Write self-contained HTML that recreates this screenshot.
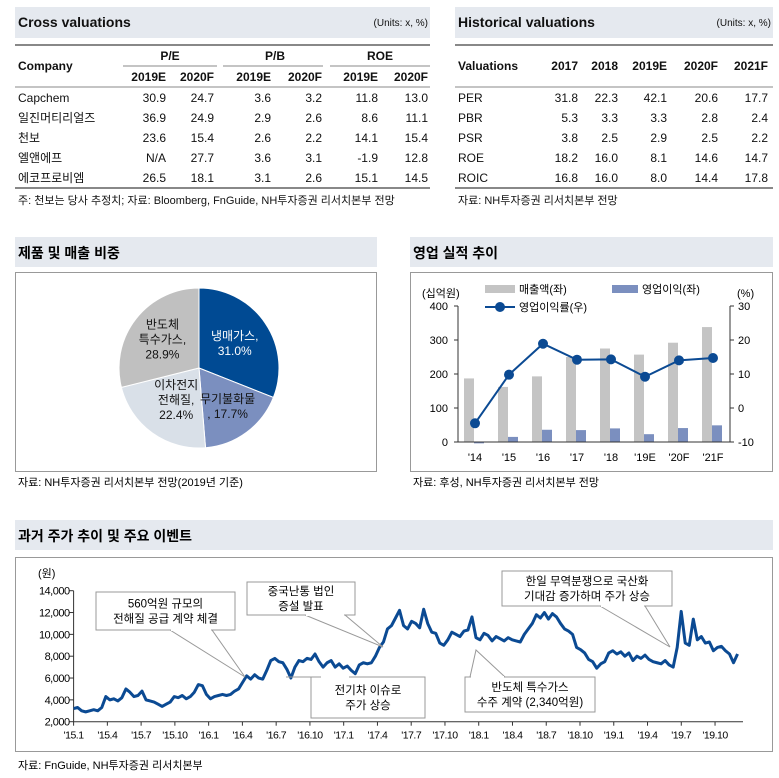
<!DOCTYPE html>
<html><head><meta charset="utf-8"><style>
body{margin:0;background:#fff;}
svg{display:block;font-family:"Liberation Sans","Noto Sans CJK KR",sans-serif;}
</style></head><body>
<svg id="pg" width="779" height="778" viewBox="0 0 779 778">
<g font-size="12" fill="#111">
<rect x="15" y="7" width="415" height="31" fill="#e5e9ef"/>
<text x="18" y="27" font-size="14" font-weight="bold">Cross valuations</text>
<text x="428" y="26" font-size="10" text-anchor="end">(Units: x, %)</text>
<line x1="15" y1="45" x2="430" y2="45" stroke="#888" stroke-width="2"/>
<text x="18" y="70" font-weight="bold">Company</text>
<g font-weight="bold" text-anchor="middle"><text x="170" y="60">P/E</text><text x="275" y="60">P/B</text><text x="380" y="60">ROE</text></g>
<g stroke="#888" stroke-width="1"><line x1="123" y1="66" x2="217" y2="66"/><line x1="223" y1="66" x2="323" y2="66"/><line x1="330" y1="66" x2="430" y2="66"/></g>
<g font-weight="bold" text-anchor="end"><text x="166" y="81">2019E</text><text x="214" y="81">2020F</text><text x="271" y="81">2019E</text><text x="322" y="81">2020F</text><text x="378" y="81">2019E</text><text x="428" y="81">2020F</text></g>
<line x1="15" y1="87" x2="430" y2="87" stroke="#888"/>
<g><text x="18" y="102">Capchem</text><text x="18" y="122">일진머티리얼즈</text><text x="18" y="142">천보</text><text x="18" y="162">엘앤에프</text><text x="18" y="182">에코프로비엠</text></g>
<g text-anchor="end">
<text x="166" y="102">30.9</text><text x="214" y="102">24.7</text><text x="271" y="102">3.6</text><text x="322" y="102">3.2</text><text x="378" y="102">11.8</text><text x="428" y="102">13.0</text>
<text x="166" y="122">36.9</text><text x="214" y="122">24.9</text><text x="271" y="122">2.9</text><text x="322" y="122">2.6</text><text x="378" y="122">8.6</text><text x="428" y="122">11.1</text>
<text x="166" y="142">23.6</text><text x="214" y="142">15.4</text><text x="271" y="142">2.6</text><text x="322" y="142">2.2</text><text x="378" y="142">14.1</text><text x="428" y="142">15.4</text>
<text x="166" y="162">N/A</text><text x="214" y="162">27.7</text><text x="271" y="162">3.6</text><text x="322" y="162">3.1</text><text x="378" y="162">-1.9</text><text x="428" y="162">12.8</text>
<text x="166" y="182">26.5</text><text x="214" y="182">18.1</text><text x="271" y="182">3.1</text><text x="322" y="182">2.6</text><text x="378" y="182">15.1</text><text x="428" y="182">14.5</text>
</g>
<line x1="15" y1="188" x2="430" y2="188" stroke="#888" stroke-width="2"/>
<text x="18" y="204" font-size="11">주: 천보는 당사 추정치;   자료: Bloomberg, FnGuide, NH투자증권 리서치본부 전망</text>
</g>
<g font-size="12" fill="#111">
<rect x="455" y="7" width="318" height="31" fill="#e5e9ef"/>
<text x="458" y="27" font-size="14" font-weight="bold">Historical valuations</text>
<text x="771" y="26" font-size="10" text-anchor="end">(Units: x, %)</text>
<line x1="455" y1="45" x2="773" y2="45" stroke="#888" stroke-width="2"/>
<text x="458" y="70" font-weight="bold">Valuations</text>
<g font-weight="bold" text-anchor="end"><text x="578" y="70">2017</text><text x="618" y="70">2018</text><text x="667" y="70">2019E</text><text x="718" y="70">2020F</text><text x="768" y="70">2021F</text></g>
<line x1="455" y1="87" x2="773" y2="87" stroke="#888"/>
<g><text x="458" y="102">PER</text><text x="458" y="122">PBR</text><text x="458" y="142">PSR</text><text x="458" y="162">ROE</text><text x="458" y="182">ROIC</text></g>
<g text-anchor="end">
<text x="578" y="102">31.8</text><text x="618" y="102">22.3</text><text x="667" y="102">42.1</text><text x="718" y="102">20.6</text><text x="768" y="102">17.7</text>
<text x="578" y="122">5.3</text><text x="618" y="122">3.3</text><text x="667" y="122">3.3</text><text x="718" y="122">2.8</text><text x="768" y="122">2.4</text>
<text x="578" y="142">3.8</text><text x="618" y="142">2.5</text><text x="667" y="142">2.9</text><text x="718" y="142">2.5</text><text x="768" y="142">2.2</text>
<text x="578" y="162">18.2</text><text x="618" y="162">16.0</text><text x="667" y="162">8.1</text><text x="718" y="162">14.6</text><text x="768" y="162">14.7</text>
<text x="578" y="182">16.8</text><text x="618" y="182">16.0</text><text x="667" y="182">8.0</text><text x="718" y="182">14.4</text><text x="768" y="182">17.8</text>
</g>
<line x1="455" y1="188" x2="773" y2="188" stroke="#888" stroke-width="2"/>
<text x="458" y="204" font-size="11">자료: NH투자증권 리서치본부 전망</text>
</g>
<g>
<rect x="15" y="237" width="362" height="30" fill="#e5e9ef"/>
<text x="18" y="258" font-size="14" font-weight="bold">제품 및 매출 비중</text>
<rect x="15.5" y="272.5" width="361" height="199" fill="none" stroke="#999"/>
<g id="pie"></g>
<text x="18" y="486" font-size="11">자료: NH투자증권 리서치본부 전망(2019년 기준)</text>
</g>
<g>
<rect x="410" y="237" width="363" height="30" fill="#e5e9ef"/>
<text x="413" y="258" font-size="14" font-weight="bold">영업 실적 추이</text>
<rect x="410.5" y="272.5" width="362" height="199" fill="none" stroke="#999"/>
<g id="bar"></g>
<text x="413" y="486" font-size="11">자료: 후성, NH투자증권 리서치본부 전망</text>
</g>
<g>
<rect x="15" y="520" width="758" height="30" fill="#e5e9ef"/>
<text x="18" y="541" font-size="14" font-weight="bold">과거 주가 추이 및 주요 이벤트</text>
<rect x="15.5" y="557.5" width="757" height="194" fill="none" stroke="#999"/>
<g id="stock"></g>
<text x="18" y="769" font-size="11">자료: FnGuide, NH투자증권 리서치본부</text>
</g>
</svg>
<script>
const NS="http://www.w3.org/2000/svg";
function mk(p,tag,a){const e=document.createElementNS(NS,tag);for(const k in a)e.setAttribute(k,a[k]);p.appendChild(e);return e;}

const pieLabels=[["냉매가스,","31.0%"],["무기불화물",", 17.7%"],["이차전지","전해질,","22.4%"],["반도체","특수가스,","28.9%"]];
const pieValues=[31.0,17.7,22.4,28.9];
const pieColors=["#004a93","#7b8fbf","#d9e0e8","#c0c0c0"];
const pieTextColors=["#fff","#111","#111","#111"];
const pieLabelRadius=[0.54,0.6,0.49,0.58];
(function(){
 const g=document.getElementById('pie');const cx=199,cy=368,r=80;
 const tot=pieValues.reduce((a,b)=>a+b,0);let a0=0;
 const labelPos=[];
 pieValues.forEach((v,i)=>{
  const a1=a0+v/tot*2*Math.PI;
  const p=(a)=>[cx+r*Math.sin(a),cy-r*Math.cos(a)];
  const [x0,y0]=p(a0),[x1,y1]=p(a1);
  const s=mk(g,'path',{d:`M${cx},${cy}L${x0},${y0}A${r},${r} 0 ${a1-a0>Math.PI?1:0} 1 ${x1},${y1}Z`,fill:pieColors[i],stroke:'#fff','stroke-width':1});
  
  
  const am=(a0+a1)/2,lr=r*pieLabelRadius[i];
  labelPos.push([cx+lr*Math.sin(am),cy-lr*Math.cos(am)]);
  a0=a1;
 });
 labelPos.forEach(([lx,ly],i)=>{
  const lines=pieLabels[i];
  lines.forEach((t,j)=>{
   const tx=mk(g,'text',{x:lx,y:ly+(j-(lines.length-1)/2)*15+4,'text-anchor':'middle','font-size':12,fill:pieTextColors[i]});
   tx.textContent=t;
   
   
  });
 });
})();

const barCats=["'14","'15","'16","'17","'18","'19E","'20F","'21F"];
const salesVals=[187,162,193,250,275,257,292,338];
const opVals=[-4,15,36,35,40,23,41,49];
const opmVals=[-4.5,9.8,18.9,14.2,14.3,9.2,14.0,14.7];
const leftTicks=[0,100,200,300,400];
const rightTicks=[-10,0,10,20,30];
(function(){
 const g=document.getElementById('bar');
 const L=458,R=730,T=306,B=442;
 const yl=v=>B-(v-0)/400*(B-T);
 const yr=v=>B-(v+10)/40*(B-T);
 const step=(R-L)/barCats.length;
 const xc=i=>L+step*(i+0.5);
 mk(g,'line',{x1:L,y1:T,x2:L,y2:B,stroke:'#333'});
 mk(g,'line',{x1:R,y1:T,x2:R,y2:B,stroke:'#333'});
 leftTicks.forEach(t=>{mk(g,'line',{x1:L-4,y1:yl(t),x2:L,y2:yl(t),stroke:'#333'});const e=mk(g,'text',{x:L-10,y:yl(t)+4,'text-anchor':'end','font-size':11});e.textContent=t;
  
  });
 rightTicks.forEach(t=>{mk(g,'line',{x1:R,y1:yr(t),x2:R+4,y2:yr(t),stroke:'#333'});const e=mk(g,'text',{x:R+8,y:yr(t)+4,'font-size':11});e.textContent=t;
  
  });
 barCats.forEach((c,i)=>{
  const b1=mk(g,'rect',{x:xc(i)-11,y:Math.min(yl(salesVals[i]),yl(0)),width:10,height:Math.abs(yl(0)-yl(salesVals[i])),fill:'#c4c4c4'});
  
  
  const b2=mk(g,'rect',{x:xc(i)-1,y:Math.min(yl(opVals[i]),yl(0)),width:10,height:Math.abs(yl(0)-yl(opVals[i])),fill:'#7b8fbf'});
  
  
  const t=mk(g,'text',{x:xc(i),y:B+19,'text-anchor':'middle','font-size':11});t.textContent=c;
  
  
 });
 mk(g,'line',{x1:L,y1:B,x2:R,y2:B,stroke:'#333'});
 const ln=mk(g,'polyline',{points:opmVals.map((v,i)=>xc(i)+','+yr(v)).join(' '),fill:'none',stroke:'#0b4a93','stroke-width':2});
 
 
 opmVals.forEach((v,i)=>{const c=mk(g,'circle',{cx:xc(i),cy:yr(v),r:5,fill:'#0b4a93'});
  
  });
 const tx=(x,y,s,a)=>{const e=mk(g,'text',{x:x,y:y,'font-size':11,'text-anchor':a||'start'});e.textContent=s;return e;};
 tx(422,297,'(십억원)');tx(737,297,'(%)');
 mk(g,'rect',{x:485,y:285,width:30,height:8,fill:'#c4c4c4'});tx(519,293,'매출액(좌)');
 mk(g,'rect',{x:612,y:285,width:26,height:8,fill:'#7b8fbf'});tx(642,293,'영업이익(좌)');
 mk(g,'line',{x1:485,y1:307,x2:515,y2:307,stroke:'#0b4a93','stroke-width':2});mk(g,'circle',{cx:500,cy:307,r:5,fill:'#0b4a93'});tx(519,311,'영업이익률(우)');
})();

const stockTicks=[2000,4000,6000,8000,10000,12000,14000];
const stockXLabels=["'15.1","'15.4","'15.7","'15.10","'16.1","'16.4","'16.7","'16.10","'17.1","'17.4","'17.7","'17.10","'18.1","'18.4","'18.7","'18.10","'19.1","'19.4","'19.7","'19.10"];
const stockPrices=[3200,3300,3000,2900,3000,3100,3000,3300,4300,4000,4100,3900,4200,5000,4700,4300,4400,4800,4000,3900,3800,3600,3400,3600,3800,4300,4200,4400,4100,4300,4700,5400,5300,4500,4100,4300,4400,4500,4400,4500,4800,5000,5600,6200,5900,6300,6000,5900,6700,7600,7800,7500,7400,6800,6000,7000,7600,7500,7800,7700,8200,7500,7000,7400,7600,7000,7300,6900,7100,6700,6400,7200,7400,7300,7400,8000,8800,9300,10500,10800,11500,12200,10800,10500,11200,11000,10600,12300,11000,10200,10100,9200,9000,9500,10200,10000,9800,10300,10400,11600,9700,9500,10100,9900,9400,9800,9600,9400,9700,9500,9400,9300,10000,10500,11000,11800,11500,12000,11400,11900,11600,11000,10500,10300,10000,8800,8600,8300,7700,7500,6900,7300,7500,8300,8500,8200,8400,8000,8300,7600,8000,7800,8100,7700,7500,7400,7300,7600,7200,7000,8800,12100,9200,9000,11400,9500,9800,9200,9300,8500,8800,8900,8500,8200,7400,8200];
const stockMonths=59;
(function(){
 const g=document.getElementById('stock');
 const L=73.6,R=743,T=590.7,B=721.7,mpx=33.76/3;
 const y=v=>B-(v-2000)/12000*(B-T);
 const xm=m=>L+m*mpx;
 mk(g,'line',{x1:L,y1:T,x2:L,y2:B,stroke:'#333'});
 mk(g,'line',{x1:L,y1:B,x2:R,y2:B,stroke:'#333'});
 stockTicks.forEach(t=>{mk(g,'line',{x1:L-4,y1:y(t),x2:L,y2:y(t),stroke:'#333'});const e=mk(g,'text',{x:L-4,y:y(t)+4,'text-anchor':'end','font-size':11,'letter-spacing':'-0.5'});e.textContent=t.toLocaleString('en-US');
  
  });
 stockXLabels.forEach((s,i)=>{const x=xm(i*3);mk(g,'line',{x1:x,y1:B,x2:x,y2:B+4,stroke:'#333'});const e=mk(g,'text',{x:x,y:B+17,'text-anchor':'middle','font-size':10.5,'letter-spacing':'-0.5'});e.textContent=s;
  
  });
 const e0=mk(g,'text',{x:38,y:577,'font-size':11});e0.textContent='(원)';
 const n=stockPrices.length;
 const ln=mk(g,'polyline',{points:stockPrices.map((v,i)=>xm(i/(n-1)*stockMonths)+','+y(v)).join(' '),fill:'none',stroke:'#0b4a93','stroke-width':3,'stroke-linejoin':'round'});
 
 
 const callouts=[
  {x:96,y:592,w:139,h:38,t:["560억원 규모의","전해질 공급 계약 체결"],b1:170,b2:212,px:245,py:677,top:false},
  {x:247,y:582,w:108,h:33,t:["중국난통 법인","증설 발표"],b1:305,b2:345,px:383,py:647,top:false},
  {x:311,y:677,w:114,h:41,t:["전기차 이슈로","주가 상승"],b1:320,b2:350,px:286,py:677,top:true},
  {x:465,y:677,w:130,h:35,t:["반도체 특수가스","수주 계약 (2,340억원)"],b1:470,b2:505,px:476,py:650,top:true},
  {x:502,y:571,w:170,h:35,t:["한일 무역분쟁으로 국산화","기대감 증가하며 주가 상승"],b1:600,b2:645,px:670,py:647,top:false}
 ];
 callouts.forEach(c=>{
  const by=c.top?c.y:c.y+c.h;
  const cg=mk(g,'g',{});
  
  
  mk(cg,'polygon',{points:`${c.b1},${by} ${c.px},${c.py} ${c.b2},${by}`,fill:'#fff',stroke:'#999'});
  mk(cg,'rect',{x:c.x,y:c.y,width:c.w,height:c.h,fill:'#fff',stroke:'#999'});
  mk(cg,'line',{x1:c.b1+1,y1:by,x2:c.b2-1,y2:by,stroke:'#fff','stroke-width':2});
  c.t.forEach((s,j)=>{const e=mk(cg,'text',{x:c.x+c.w/2,y:c.y+c.h/2+(j-0.5)*15+4,'text-anchor':'middle','font-size':11.5});e.textContent=s;});
 });
})();
</script>
</body></html>
